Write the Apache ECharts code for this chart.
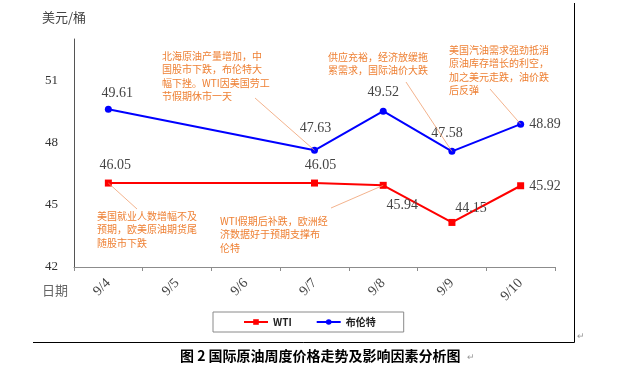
<!DOCTYPE html>
<html>
<head>
<meta charset="utf-8">
<script src="https://cdn.jsdelivr.net/npm/echarts@6/dist/echarts.min.js"></script>
<style>
html,body{margin:0;padding:0;background:#fff;}
#c{width:622px;height:375px;}
</style>
</head>
<body>
<div id="c"></div>
<script>
const categories = ['9/4', '9/5', '9/6', '9/7', '9/8', '9/9', '9/10'];
const wti = [46.05, null, null, 46.05, 45.94, 44.15, 45.92];
const brent = [49.61, null, null, 47.63, 49.52, 47.58, 48.89];
const seriesNames = ['WTI', '布伦特'];
const yMin = 42, yMax = 53, yStep = 3;
const yAxisName = '美元/桶';
const xAxisName = '日期';
const chartTitle = '图 2 国际原油周度价格走势及影响因素分析图';
const notes = [
  '北海原油产量增加，中\n国股市下跌，布伦特大\n幅下挫。WTI因美国劳工\n节假期休市一天',
  '供应充裕，经济放缓拖\n累需求，国际油价大跌',
  '美国汽油需求强劲抵消\n原油库存增长的利空，\n加之美元走跌，油价跌\n后反弹',
  '美国就业人数增幅不及\n预期，欧美原油期货尾\n随股市下跌',
  'WTI假期后补跌，欧洲经\n济数据好于预期支撑布\n伦特'
];
// which point each note refers to: [seriesIndex, categoryIndex]
const noteTargets = [[1, 3], [1, 5], [1, 6], [0, 0], [0, 4]];

// layout only
const noteBoxes = [[162, 49], [328, 50], [449, 43], [97, 209], [220, 214]];
const noteAnchors = [[255, 98], [406, 82], [490, 89], [137, 209], [331, 208]];
const wtiLabelLayout = [
  {position: 'top', offset: [7, -2]}, null, null,
  {position: 'top', offset: [6, -2]},
  {position: 'bottom', offset: [19, 4]},
  {position: 'top', offset: [19, 1]},
  {position: 'right', offset: [0, 1]}
];
const brentLabelLayout = [
  {position: 'top', offset: [9, 0]}, null, null,
  {position: 'top', offset: [1, -6]},
  {position: 'top', offset: [0, -3]},
  {position: 'top', offset: [-5, -3]},
  {position: 'right', offset: [0, 0]}
];

const serif = '"Liberation Serif", "DejaVu Serif", serif';
const cjk = '"Noto Sans CJK SC", sans-serif';
const orange = '#EE8034';

function buildData(vals, layout) {
  return vals.map((v, i) => {
    if (v === null) return null;
    return {value: v, label: Object.assign({}, layout[i])};
  });
}

const chart = echarts.init(document.getElementById('c'), null, {renderer: 'canvas'});
const option = {
  animation: false,
  backgroundColor: '#fff',
  grid: {left: 74, right: 67, top: 39, bottom: 108, containLabel: false},
  xAxis: {
    type: 'category',
    data: categories,
    boundaryGap: true,
    axisLine: {lineStyle: {color: '#8c8c8c', width: 1}},
    axisTick: {show: true, length: 4, lineStyle: {color: '#8c8c8c'}},
    axisLabel: {rotate: 45, margin: 14, color: '#444', fontFamily: serif, fontSize: 14},
    splitLine: {show: false}
  },
  yAxis: {
    type: 'value',
    min: yMin, max: yMax, interval: yStep,
    axisLine: {show: true, lineStyle: {color: '#555', width: 1}},
    axisTick: {show: false},
    axisLabel: {showMaxLabel: false, margin: 16, color: '#333', fontFamily: serif, fontSize: 13},
    splitLine: {show: false}
  },
  legend: {
    left: 213, top: 312,
    padding: [5, 28, 5, 30],
    itemGap: 24,
    itemWidth: 24, itemHeight: 7,
    borderColor: '#8a8a8a', borderWidth: 1,
    textStyle: {fontFamily: cjk, fontSize: 10, fontWeight: 'bold', color: '#222'},
    data: seriesNames
  },
  series: [
    {
      name: seriesNames[0], type: 'line', data: buildData(wti, wtiLabelLayout),
      connectNulls: true, symbol: 'rect', symbolSize: 7,
      itemStyle: {color: '#FF0000'}, lineStyle: {color: '#FF0000', width: 2},
      label: {show: true, distance: 5, color: '#444', fontFamily: serif, fontSize: 14, formatter: p => p.value.toFixed(2)}
    },
    {
      name: seriesNames[1], type: 'line', data: buildData(brent, brentLabelLayout),
      connectNulls: true, symbol: 'circle', symbolSize: 7,
      itemStyle: {color: '#0000FF'}, lineStyle: {color: '#0000FF', width: 2},
      label: {show: true, distance: 5, color: '#444', fontFamily: serif, fontSize: 14, formatter: p => p.value.toFixed(2)}
    }
  ]
};
chart.setOption(option);

const seriesVals = [wti, brent];
const graphics = [];
notes.forEach((t, i) => {
  const [si, ci] = noteTargets[i];
  const pt = chart.convertToPixel({seriesIndex: si}, [ci, seriesVals[si][ci]]);
  const a = noteAnchors[i];
  graphics.push({
    type: 'line', silent: true, z: 5,
    shape: {x1: a[0], y1: a[1], x2: pt[0], y2: pt[1]},
    style: {stroke: '#F0A070', lineWidth: 0.8}
  });
  graphics.push({
    type: 'text', silent: true, z: 6,
    x: noteBoxes[i][0], y: noteBoxes[i][1],
    style: {text: t, fill: orange, font: '10px ' + cjk, lineHeight: 13.5}
  });
});
graphics.push({type: 'text', x: 42, y: 11, style: {text: yAxisName, fill: '#444', font: '13px ' + cjk}});
graphics.push({type: 'text', x: 42, y: 284, style: {text: xAxisName, fill: '#666', font: '13px ' + cjk}});
graphics.push({type: 'line', shape: {x1: 574.5, y1: 3, x2: 574.5, y2: 342.5}, style: {stroke: '#000', lineWidth: 1}});
graphics.push({type: 'line', shape: {x1: 33, y1: 342.5, x2: 574.5, y2: 342.5}, style: {stroke: '#000', lineWidth: 1}});
graphics.push({type: 'text', x: 577, y: 331, style: {text: '↵', fill: '#999', font: '9px ' + cjk}});
graphics.push({type: 'text', x: 180, y: 349, style: {text: chartTitle, fill: '#000', font: 'bold 14px ' + cjk}});
graphics.push({type: 'text', x: 467, y: 352, style: {text: '↵', fill: '#999', font: '9px ' + cjk}});
chart.setOption({graphic: graphics});
</script>
</body>
</html>
